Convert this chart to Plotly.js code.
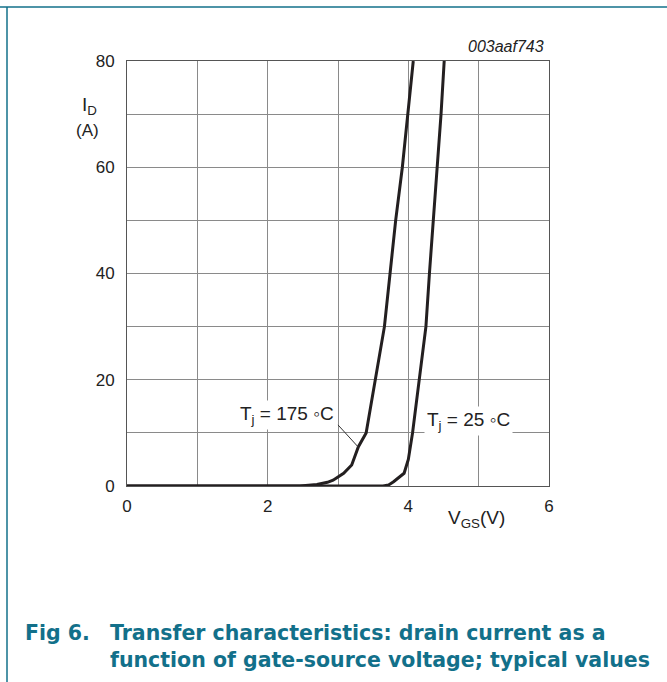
<!DOCTYPE html>
<html>
<head>
<meta charset="utf-8">
<script src="https://cdn.plot.ly/plotly-3.0.1.min.js"></script>
<style>
html,body{margin:0;padding:0;background:#fff;}
#chart{width:667px;height:682px;}
</style>
</head>
<body>
<div id="chart"></div>
<script>
// Data (V_GS in V, I_D in A)
var vgs175 = [0, 2.0, 2.46, 2.7, 2.85, 2.93, 3.08, 3.195, 3.29, 3.40, 3.53, 3.66, 3.74, 3.82, 3.915, 3.99, 4.07];
var id175  = [0, 0,   0,    0.3, 0.7,  1.1,  2.4,  3.95,  7.4,  10,   20,   30,   40,   50,   60,    70,   80];
var vgs25  = [0, 3.0, 3.64, 3.72, 3.79, 3.94, 4.0, 4.06, 4.16, 4.25, 4.30, 4.36, 4.41, 4.465, 4.51];
var id25   = [0, 0,   0,    0.2,  0.8,  2.4,  5,   10,   20,   30,   40,   50,   60,   70,    80];
var xTicks = [0, 2, 4, 6];
var yTicks = [0, 20, 40, 60, 80];
var label175 = "T<sub>j</sub> = 175 \u25E6C";
var label25 = "T<sub>j</sub> = 25 \u25E6C";

var teal = "#12708a";
var curveColor = "#231f20";
var gridColor = "#8a8a8a";

var traces = [
  {x: vgs175, y: id175, mode: "lines", line: {color: curveColor, width: 3}, hoverinfo: "skip", showlegend: false},
  {x: vgs25, y: id25, mode: "lines", line: {color: curveColor, width: 3}, hoverinfo: "skip", showlegend: false}
];

var L = 127, R = 549, T = 61, B = 486;
function px(p){ return (p - L) / (R - L); }
function py(p){ return (B - p) / (B - T); }

var layout = {
  width: 667, height: 682,
  margin: {l: L, r: 667 - R, t: T, b: 682 - B, pad: 0},
  paper_bgcolor: "#fff", plot_bgcolor: "#fff",
  font: {family: "Liberation Sans, Arial, sans-serif", size: 17, color: "#222"},
  showlegend: false,
  xaxis: {
    range: [0, 6], tickvals: xTicks, ticktext: xTicks.map(String),
    showgrid: true, gridcolor: gridColor, gridwidth: 1,
    minor: {dtick: 1, showgrid: true, gridcolor: gridColor, gridwidth: 1},
    zeroline: false, showline: true, mirror: true, linecolor: "#555", linewidth: 1,
    ticks: "", ticklabelstandoff: 5, fixedrange: true
  },
  yaxis: {
    range: [0, 80], tickvals: yTicks, ticktext: yTicks.map(String),
    showgrid: true, gridcolor: gridColor, gridwidth: 1,
    minor: {dtick: 10, showgrid: true, gridcolor: gridColor, gridwidth: 1},
    zeroline: false, showline: true, mirror: true, linecolor: "#555", linewidth: 1,
    ticks: "", ticklabelstandoff: 8, fixedrange: true
  },
  shapes: [
    {type: "line", xref: "x", yref: "y", x0: 3.0, y0: 11.5, x1: 3.29, y1: 7.3, line: {color: "#333", width: 1}},
    {type: "line", xref: "paper", yref: "paper", x0: px(0), x1: px(667), y0: py(7), y1: py(7), line: {color: teal, width: 1.5}, layer: "above"},
    {type: "line", xref: "paper", yref: "paper", x0: px(7), x1: px(7), y0: py(7), y1: py(682), line: {color: teal, width: 1.5}, layer: "above"}
  ],
  annotations: [
    {xref: "x", yref: "y", x: 2.28, y: 13.4, text: label175, showarrow: false, bgcolor: "#fff", borderpad: 2,
     font: {size: 19, color: "#222"}},
    {xref: "x", yref: "y", x: 4.85, y: 12.3, text: label25, showarrow: false, bgcolor: "#fff", borderpad: 2,
     font: {size: 19, color: "#222"}},
    {xref: "paper", yref: "paper", x: px(89), y: py(106), text: "I<sub>D</sub>", showarrow: false, xanchor: "center", yanchor: "middle", font: {size: 19}},
    {xref: "paper", yref: "paper", x: px(87), y: py(130), text: "(A)", showarrow: false, xanchor: "center", yanchor: "middle", font: {size: 17}},
    {xref: "paper", yref: "paper", x: px(446), y: py(519), text: "V<sub>GS</sub>(V)", showarrow: false, xanchor: "left", yanchor: "middle", font: {size: 19}},
    {xref: "paper", yref: "paper", x: px(546), y: py(47), text: "<i>003aaf743</i>", showarrow: false, xanchor: "right", yanchor: "middle", font: {size: 16}},
    {xref: "paper", yref: "paper", x: px(23), y: py(633), text: "<b>Fig 6.</b>", showarrow: false, xanchor: "left", yanchor: "middle",
     font: {family: "DejaVu Sans, sans-serif", size: 20.5, color: teal}},
    {xref: "paper", yref: "paper", x: px(108), y: py(633), text: "<b>Transfer characteristics: drain current as a</b>",
     showarrow: false, xanchor: "left", yanchor: "middle", align: "left",
     font: {family: "DejaVu Sans, sans-serif", size: 20.5, color: teal}},
    {xref: "paper", yref: "paper", x: px(108), y: py(660), text: "<b>function of gate-source voltage; typical values</b>",
     showarrow: false, xanchor: "left", yanchor: "middle", align: "left",
     font: {family: "DejaVu Sans, sans-serif", size: 20.5, color: teal}}
  ]
};

Plotly.newPlot("chart", traces, layout, {staticPlot: true, displayModeBar: false});
</script>
</body>
</html>
